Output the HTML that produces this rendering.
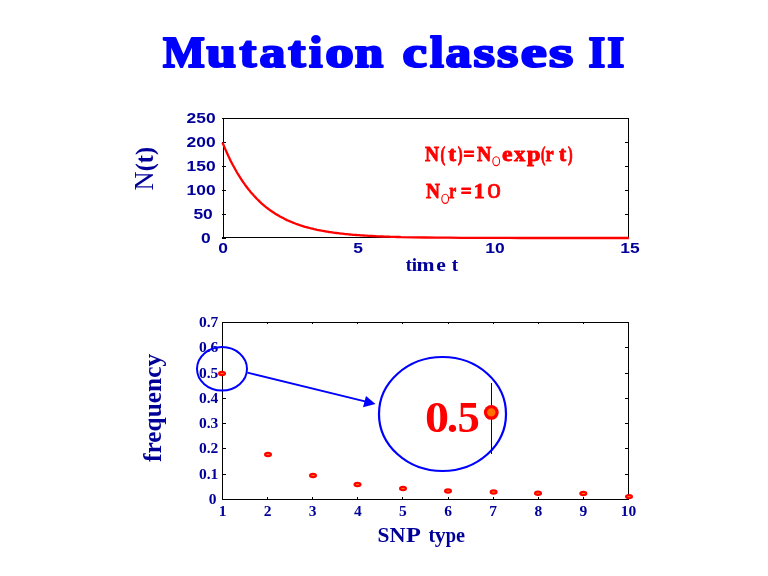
<!DOCTYPE html>
<html><head><meta charset="utf-8"><title>Mutation classes II</title>
<style>
html,body{margin:0;padding:0;background:#fff;}
body{width:768px;height:576px;overflow:hidden;font-family:"Liberation Serif",serif;}
svg{display:block;position:absolute;left:0;top:0;will-change:transform;}
text{font-family:"Liberation Serif",serif;}
.sans{font-family:"Liberation Sans",sans-serif;font-weight:bold;}
.sansr{font-family:"Liberation Sans",sans-serif;font-weight:normal;}
.ser{font-family:"Liberation Serif",serif;font-weight:bold;}
</style></head><body>
<svg width="768" height="576" viewBox="0 0 768 576">
<rect width="768" height="576" fill="#fff"/>
<text x="0" y="0" class="ser" font-size="45.1" fill="#0000ff" stroke="#0000ff" stroke-width="2.2" stroke-linejoin="round" transform="translate(163.02 66.9) scale(0.984 1)">M</text>
<text x="0" y="0" class="ser" font-size="45.1" fill="#0000ff" stroke="#0000ff" stroke-width="2.2" stroke-linejoin="round" transform="translate(206.39 66.9) scale(1.178 1)">u</text>
<text x="0" y="0" class="ser" font-size="45.1" fill="#0000ff" stroke="#0000ff" stroke-width="2.2" stroke-linejoin="round" transform="translate(239.42 66.9) scale(1.123 1)">t</text>
<text x="0" y="0" class="ser" font-size="45.1" fill="#0000ff" stroke="#0000ff" stroke-width="2.2" stroke-linejoin="round" transform="translate(259.59 66.9) scale(1.150 1)">a</text>
<text x="0" y="0" class="ser" font-size="45.1" fill="#0000ff" stroke="#0000ff" stroke-width="2.2" stroke-linejoin="round" transform="translate(288.23 66.9) scale(1.154 1)">t</text>
<text x="0" y="0" class="ser" font-size="45.1" fill="#0000ff" stroke="#0000ff" stroke-width="2.2" stroke-linejoin="round" transform="translate(309.02 66.9) scale(1.078 1)">i</text>
<text x="0" y="0" class="ser" font-size="45.1" fill="#0000ff" stroke="#0000ff" stroke-width="2.2" stroke-linejoin="round" transform="translate(325.32 66.9) scale(1.267 1)">o</text>
<text x="0" y="0" class="ser" font-size="45.1" fill="#0000ff" stroke="#0000ff" stroke-width="2.2" stroke-linejoin="round" transform="translate(354.87 66.9) scale(1.138 1)">n</text>
<text x="0" y="0" class="ser" font-size="45.1" fill="#0000ff" stroke="#0000ff" stroke-width="2.2" stroke-linejoin="round" transform="translate(402.56 66.9) scale(1.222 1)">c</text>
<text x="0" y="0" class="ser" font-size="45.1" fill="#0000ff" stroke="#0000ff" stroke-width="2.2" stroke-linejoin="round" transform="translate(429.94 66.9) scale(1.109 1)">l</text>
<text x="0" y="0" class="ser" font-size="45.1" fill="#0000ff" stroke="#0000ff" stroke-width="2.2" stroke-linejoin="round" transform="translate(445.40 66.9) scale(1.141 1)">a</text>
<text x="0" y="0" class="ser" font-size="45.1" fill="#0000ff" stroke="#0000ff" stroke-width="2.2" stroke-linejoin="round" transform="translate(473.58 66.9) scale(1.221 1)">s</text>
<text x="0" y="0" class="ser" font-size="45.1" fill="#0000ff" stroke="#0000ff" stroke-width="2.2" stroke-linejoin="round" transform="translate(497.08 66.9) scale(1.209 1)">s</text>
<text x="0" y="0" class="ser" font-size="45.1" fill="#0000ff" stroke="#0000ff" stroke-width="2.2" stroke-linejoin="round" transform="translate(520.68 66.9) scale(1.299 1)">e</text>
<text x="0" y="0" class="ser" font-size="45.1" fill="#0000ff" stroke="#0000ff" stroke-width="2.2" stroke-linejoin="round" transform="translate(549.03 66.9) scale(1.377 1)">s</text>
<text x="0" y="0" class="ser" font-size="45.1" fill="#0000ff" stroke="#0000ff" stroke-width="2.2" stroke-linejoin="round" transform="translate(588.40 66.9) scale(0.957 1)">I</text>
<text x="0" y="0" class="ser" font-size="45.1" fill="#0000ff" stroke="#0000ff" stroke-width="2.2" stroke-linejoin="round" transform="translate(607.29 66.9) scale(0.975 1)">I</text>
<g shape-rendering="crispEdges" stroke="#000" stroke-width="1" fill="none">
<rect x="223.5" y="118.5" width="405.0" height="119.0"/>
<line x1="222.0" y1="142.5" x2="226.0" y2="142.5"/>
<line x1="628.5" y1="142.5" x2="625.0" y2="142.5"/>
<line x1="222.0" y1="166.5" x2="226.0" y2="166.5"/>
<line x1="628.5" y1="166.5" x2="625.0" y2="166.5"/>
<line x1="222.0" y1="190.5" x2="226.0" y2="190.5"/>
<line x1="628.5" y1="190.5" x2="625.0" y2="190.5"/>
<line x1="222.0" y1="214.5" x2="226.0" y2="214.5"/>
<line x1="628.5" y1="214.5" x2="625.0" y2="214.5"/>
<rect x="222" y="237" width="4" height="2" fill="#000" stroke="none"/>
<line x1="222" y1="118.5" x2="224" y2="118.5"/>
</g>
<text x="0" y="0" class="sans" font-size="15.5" fill="#000099" text-anchor="end" transform="translate(215.6 122.8) scale(1.125 1)">250</text>
<text x="0" y="0" class="sans" font-size="15.5" fill="#000099" text-anchor="end" transform="translate(215.6 146.8) scale(1.125 1)">200</text>
<text x="0" y="0" class="sans" font-size="15.5" fill="#000099" text-anchor="end" transform="translate(215.6 170.8) scale(1.125 1)">150</text>
<text x="0" y="0" class="sans" font-size="15.5" fill="#000099" text-anchor="end" transform="translate(215.6 194.8) scale(1.125 1)">100</text>
<text x="0" y="0" class="sans" font-size="15.5" fill="#000099" text-anchor="end" transform="translate(212.8 218.8) scale(1.125 1)">50</text>
<text x="0" y="0" class="sans" font-size="15.5" fill="#000099" text-anchor="end" transform="translate(210.6 242.8) scale(1.125 1)">0</text>
<text x="0" y="0" class="sans" font-size="15.5" fill="#000099" text-anchor="middle" transform="translate(223.1 253) scale(1.125 1)">0</text>
<text x="0" y="0" class="sans" font-size="15.5" fill="#000099" text-anchor="middle" transform="translate(358.1 253) scale(1.125 1)">5</text>
<text x="0" y="0" class="sans" font-size="15.5" fill="#000099" text-anchor="middle" transform="translate(495.0 253) scale(1.125 1)">10</text>
<text x="0" y="0" class="sans" font-size="15.5" fill="#000099" text-anchor="middle" transform="translate(630.0 253) scale(1.125 1)">15</text>
<polyline points="222.5,142.5 224.0,146.1 225.5,149.6 227.0,153.0 228.5,156.3 230.0,159.4 231.5,162.4 233.0,165.3 234.5,168.0 236.0,170.7 237.5,173.3 239.0,175.7 240.5,178.1 242.0,180.4 243.5,182.6 245.0,184.7 246.5,186.7 248.0,188.7 249.5,190.6 251.0,192.4 252.5,194.1 254.0,195.8 255.5,197.4 257.0,199.0 258.5,200.4 260.0,201.9 261.5,203.3 263.0,204.6 264.5,205.9 266.0,207.1 267.5,208.3 269.0,209.4 270.5,210.5 272.0,211.5 273.5,212.5 275.0,213.5 276.5,214.4 278.0,215.3 279.5,216.2 281.0,217.0 282.5,217.8 284.0,218.6 285.5,219.4 287.0,220.1 288.5,220.7 290.0,221.4 291.5,222.0 293.0,222.6 294.5,223.2 296.0,223.8 297.5,224.3 299.0,224.9 300.5,225.4 302.0,225.8 303.5,226.3 305.0,226.8 306.5,227.2 308.0,227.6 309.5,228.0 311.0,228.4 312.5,228.7 314.0,229.1 315.5,229.4 317.0,229.8 318.5,230.1 320.0,230.4 321.5,230.7 323.0,230.9 324.5,231.2 326.0,231.5 327.5,231.7 329.0,232.0 330.5,232.2 332.0,232.4 333.5,232.6 335.0,232.8 336.5,233.0 338.0,233.2 339.5,233.4 341.0,233.6 342.5,233.7 344.0,233.9 345.5,234.1 347.0,234.2 348.5,234.4 350.0,234.5 351.5,234.6 353.0,234.8 354.5,234.9 356.0,235.0 357.5,235.1 359.0,235.2 360.5,235.3 362.0,235.4 363.5,235.5 365.0,235.6 366.5,235.7 368.0,235.8 369.5,235.9 371.0,236.0 372.5,236.0 374.0,236.1 375.5,236.2 377.0,236.3 378.5,236.3 380.0,236.4 381.5,236.5 383.0,236.5 384.5,236.6 386.0,236.6 387.5,236.7 389.0,236.7 390.5,236.8 392.0,236.8 393.5,236.9 395.0,236.9 396.5,237.0 398.0,237.0 399.5,237.0 401.0,237.1 413.0,237.3 425.0,237.5 437.0,237.6 449.0,237.7 461.0,237.8 473.0,237.9 485.0,237.9 497.0,237.9 509.0,237.9 521.0,238.0 533.0,238.0 545.0,238.0 557.0,238.0 569.0,238.0 581.0,238.0 593.0,238.0 605.0,238.0 617.0,238.0 628.9,238.0" fill="none" stroke="#ff0000" stroke-width="2.3" stroke-linejoin="round"/>
<text x="0" y="0" class="ser" font-size="20.2" fill="#ff0000" stroke="#ff0000" stroke-width="0.8" stroke-linejoin="round" transform="translate(425.01 160.6) scale(0.964 1)">N</text>
<text x="0" y="0" class="ser" font-size="20.2" fill="#ff0000" stroke="#ff0000" stroke-width="0.8" stroke-linejoin="round" transform="translate(440.40 160.6) scale(0.710 1)">(</text>
<text x="0" y="0" class="ser" font-size="20.2" fill="#ff0000" stroke="#ff0000" stroke-width="0.8" stroke-linejoin="round" transform="translate(448.29 160.6) scale(1.153 1)">t</text>
<text x="0" y="0" class="ser" font-size="20.2" fill="#ff0000" stroke="#ff0000" stroke-width="0.8" stroke-linejoin="round" transform="translate(457.72 160.6) scale(0.718 1)">)</text>
<text x="0" y="0" class="ser" font-size="20.2" fill="#ff0000" stroke="#ff0000" stroke-width="0.8" stroke-linejoin="round" transform="translate(463.19 160.6) scale(1.001 1)">=</text>
<text x="0" y="0" class="ser" font-size="20.2" fill="#ff0000" stroke="#ff0000" stroke-width="0.8" stroke-linejoin="round" transform="translate(477.11 160.6) scale(0.977 1)">N</text>
<text x="0" y="0" class="ser" font-size="20.2" fill="#ff0000" stroke="#ff0000" stroke-width="0.8" stroke-linejoin="round" transform="translate(501.96 160.6) scale(1.169 1)">e</text>
<text x="0" y="0" class="ser" font-size="20.2" fill="#ff0000" stroke="#ff0000" stroke-width="0.8" stroke-linejoin="round" transform="translate(514.11 160.6) scale(1.116 1)">x</text>
<text x="0" y="0" class="ser" font-size="20.2" fill="#ff0000" stroke="#ff0000" stroke-width="0.8" stroke-linejoin="round" transform="translate(527.07 160.6) scale(1.204 1)">p</text>
<text x="0" y="0" class="ser" font-size="20.2" fill="#ff0000" stroke="#ff0000" stroke-width="0.8" stroke-linejoin="round" transform="translate(540.98 160.6) scale(0.651 1)">(</text>
<text x="0" y="0" class="ser" font-size="20.2" fill="#ff0000" stroke="#ff0000" stroke-width="0.8" stroke-linejoin="round" transform="translate(545.47 160.6) scale(0.910 1)">r</text>
<text x="0" y="0" class="ser" font-size="20.2" fill="#ff0000" stroke="#ff0000" stroke-width="0.8" stroke-linejoin="round" transform="translate(558.98 160.6) scale(1.069 1)">t</text>
<text x="0" y="0" class="ser" font-size="20.2" fill="#ff0000" stroke="#ff0000" stroke-width="0.8" stroke-linejoin="round" transform="translate(568.03 160.6) scale(0.685 1)">)</text>
<ellipse cx="496.2" cy="161.2" rx="3.4" ry="4.4" fill="none" stroke="#ff0000" stroke-width="1.1"/>
<text x="0" y="0" class="ser" font-size="20.2" fill="#ff0000" stroke="#ff0000" stroke-width="0.8" stroke-linejoin="round" transform="translate(426.11 197.6) scale(0.957 1)">N</text>
<text x="0" y="0" class="ser" font-size="20.2" fill="#ff0000" stroke="#ff0000" stroke-width="0.8" stroke-linejoin="round" transform="translate(449.29 197.6) scale(0.774 1)">r</text>
<text x="0" y="0" class="ser" font-size="20.2" fill="#ff0000" stroke="#ff0000" stroke-width="0.8" stroke-linejoin="round" transform="translate(460.72 197.6) scale(0.952 1)">=</text>
<text x="0" y="0" class="ser" font-size="20.2" fill="#ff0000" stroke="#ff0000" stroke-width="0.8" stroke-linejoin="round" transform="translate(473.68 197.6) scale(1.081 1)">1</text>
<text x="0" y="0" class="sansr" font-size="20.6" fill="#ff0000" stroke="#ff0000" stroke-width="0.6" stroke-linejoin="round" transform="translate(487.30 197.7) scale(1.187 1)">0</text>
<ellipse cx="445.2" cy="198.8" rx="3.4" ry="4.6" fill="none" stroke="#ff0000" stroke-width="1.1"/>
<text x="0" y="0" class="ser" font-size="18.5" fill="#000099" transform="translate(405.71 270.6) scale(0.986 1)">t</text>
<text x="0" y="0" class="ser" font-size="18.5" fill="#000099" transform="translate(411.68 270.6) scale(1.031 1)">i</text>
<text x="0" y="0" class="ser" font-size="18.5" fill="#000099" transform="translate(416.52 270.6) scale(1.171 1)">m</text>
<text x="0" y="0" class="ser" font-size="18.5" fill="#000099" transform="translate(436.36 270.6) scale(1.169 1)">e</text>
<text x="0" y="0" class="ser" font-size="18.5" fill="#000099" transform="translate(451.79 270.6) scale(1.038 1)">t</text>
<text transform="translate(153 190.5) rotate(-90)" font-size="26.5" fill="#000099">N<tspan font-weight="bold" font-size="24.5">(t)</tspan></text>
<g shape-rendering="crispEdges" stroke="#000" stroke-width="1" fill="none">
<rect x="222.5" y="322.5" width="406.0" height="177.0"/>
<line x1="222.5" y1="347.8" x2="226.0" y2="347.8"/>
<line x1="628.5" y1="347.8" x2="625.0" y2="347.8"/>
<line x1="222.5" y1="373.1" x2="226.0" y2="373.1"/>
<line x1="628.5" y1="373.1" x2="625.0" y2="373.1"/>
<line x1="222.5" y1="398.4" x2="226.0" y2="398.4"/>
<line x1="628.5" y1="398.4" x2="625.0" y2="398.4"/>
<line x1="222.5" y1="423.6" x2="226.0" y2="423.6"/>
<line x1="628.5" y1="423.6" x2="625.0" y2="423.6"/>
<line x1="222.5" y1="448.9" x2="226.0" y2="448.9"/>
<line x1="628.5" y1="448.9" x2="625.0" y2="448.9"/>
<line x1="222.5" y1="474.2" x2="226.0" y2="474.2"/>
<line x1="628.5" y1="474.2" x2="625.0" y2="474.2"/>
<line x1="267.6" y1="322.5" x2="267.6" y2="324.0"/>
<line x1="267.6" y1="499.5" x2="267.6" y2="497.0"/>
<line x1="312.7" y1="322.5" x2="312.7" y2="324.0"/>
<line x1="312.7" y1="499.5" x2="312.7" y2="497.0"/>
<line x1="357.8" y1="322.5" x2="357.8" y2="324.0"/>
<line x1="357.8" y1="499.5" x2="357.8" y2="497.0"/>
<line x1="402.9" y1="322.5" x2="402.9" y2="324.0"/>
<line x1="402.9" y1="499.5" x2="402.9" y2="497.0"/>
<line x1="448.1" y1="322.5" x2="448.1" y2="324.0"/>
<line x1="448.1" y1="499.5" x2="448.1" y2="497.0"/>
<line x1="493.2" y1="322.5" x2="493.2" y2="324.0"/>
<line x1="493.2" y1="499.5" x2="493.2" y2="497.0"/>
<line x1="538.3" y1="322.5" x2="538.3" y2="324.0"/>
<line x1="538.3" y1="499.5" x2="538.3" y2="497.0"/>
<line x1="583.4" y1="322.5" x2="583.4" y2="324.0"/>
<line x1="583.4" y1="499.5" x2="583.4" y2="497.0"/>
</g>
<text x="0" y="0" class="ser" font-size="14" fill="#000099" text-anchor="end" transform="translate(218.3 327.0) scale(1.11 1)">0.7</text>
<text x="0" y="0" class="ser" font-size="14" fill="#000099" text-anchor="end" transform="translate(218.3 352.3) scale(1.11 1)">0.6</text>
<text x="0" y="0" class="ser" font-size="14" fill="#000099" text-anchor="end" transform="translate(218.3 377.6) scale(1.11 1)">0.5</text>
<text x="0" y="0" class="ser" font-size="14" fill="#000099" text-anchor="end" transform="translate(218.3 402.9) scale(1.11 1)">0.4</text>
<text x="0" y="0" class="ser" font-size="14" fill="#000099" text-anchor="end" transform="translate(218.3 428.2) scale(1.11 1)">0.3</text>
<text x="0" y="0" class="ser" font-size="14" fill="#000099" text-anchor="end" transform="translate(218.3 453.4) scale(1.11 1)">0.2</text>
<text x="0" y="0" class="ser" font-size="14" fill="#000099" text-anchor="end" transform="translate(218.3 478.7) scale(1.11 1)">0.1</text>
<text x="0" y="0" class="ser" font-size="14" fill="#000099" text-anchor="end" transform="translate(216.4 504.0) scale(1.11 1)">0</text>
<text x="0" y="0" class="ser" font-size="14" fill="#000099" text-anchor="middle" transform="translate(222.5 515.8) scale(1.11 1)">1</text>
<text x="0" y="0" class="ser" font-size="14" fill="#000099" text-anchor="middle" transform="translate(267.6 515.8) scale(1.11 1)">2</text>
<text x="0" y="0" class="ser" font-size="14" fill="#000099" text-anchor="middle" transform="translate(312.7 515.8) scale(1.11 1)">3</text>
<text x="0" y="0" class="ser" font-size="14" fill="#000099" text-anchor="middle" transform="translate(357.8 515.8) scale(1.11 1)">4</text>
<text x="0" y="0" class="ser" font-size="14" fill="#000099" text-anchor="middle" transform="translate(402.9 515.8) scale(1.11 1)">5</text>
<text x="0" y="0" class="ser" font-size="14" fill="#000099" text-anchor="middle" transform="translate(448.1 515.8) scale(1.11 1)">6</text>
<text x="0" y="0" class="ser" font-size="14" fill="#000099" text-anchor="middle" transform="translate(493.2 515.8) scale(1.11 1)">7</text>
<text x="0" y="0" class="ser" font-size="14" fill="#000099" text-anchor="middle" transform="translate(538.3 515.8) scale(1.11 1)">8</text>
<text x="0" y="0" class="ser" font-size="14" fill="#000099" text-anchor="middle" transform="translate(583.4 515.8) scale(1.11 1)">9</text>
<text x="0" y="0" class="ser" font-size="14" fill="#000099" text-anchor="middle" transform="translate(628.5 515.8) scale(1.11 1)">10</text>
<ellipse cx="222" cy="373.5" rx="4" ry="2.7" fill="#ff0000"/>
<rect x="220.5" y="373.0" width="3" height="1" fill="#ff8000"/>
<ellipse cx="268" cy="454.5" rx="4" ry="2.7" fill="#ff0000"/>
<rect x="266.5" y="454.0" width="3" height="1" fill="#ff8000"/>
<ellipse cx="313" cy="475.5" rx="4" ry="2.7" fill="#ff0000"/>
<rect x="311.5" y="475.0" width="3" height="1" fill="#ff8000"/>
<ellipse cx="357.5" cy="484.5" rx="4" ry="2.7" fill="#ff0000"/>
<rect x="356.0" y="484.0" width="3" height="1" fill="#ff8000"/>
<ellipse cx="403" cy="488.5" rx="4" ry="2.7" fill="#ff0000"/>
<rect x="401.5" y="488.0" width="3" height="1" fill="#ff8000"/>
<ellipse cx="448" cy="491" rx="4" ry="2.7" fill="#ff0000"/>
<rect x="446.5" y="490.5" width="3" height="1" fill="#ff8000"/>
<ellipse cx="493.6" cy="492" rx="4" ry="2.7" fill="#ff0000"/>
<rect x="492.1" y="491.5" width="3" height="1" fill="#ff8000"/>
<ellipse cx="538" cy="493.2" rx="4" ry="2.7" fill="#ff0000"/>
<rect x="536.5" y="492.7" width="3" height="1" fill="#ff8000"/>
<ellipse cx="583.3" cy="493.5" rx="4" ry="2.7" fill="#ff0000"/>
<rect x="581.8" y="493.0" width="3" height="1" fill="#ff8000"/>
<ellipse cx="629" cy="496.6" rx="4" ry="2.7" fill="#ff0000"/>
<rect x="627.5" y="496.1" width="3" height="1" fill="#ff8000"/>
<ellipse cx="222" cy="368.8" rx="25" ry="21.8" fill="none" stroke="#0000ff" stroke-width="2"/>
<ellipse cx="442.5" cy="414" rx="63.5" ry="57" fill="none" stroke="#0000ff" stroke-width="2.2"/>
<line x1="247.5" y1="372.6" x2="366" y2="401.6" stroke="#0000ff" stroke-width="2"/>
<polygon points="366,396 375.5,404 363,407.3" fill="#0000ff"/>
<line x1="491.5" y1="383" x2="491.5" y2="454" stroke="#000080" stroke-width="1" shape-rendering="crispEdges"/>
<text x="0" y="0" class="ser" font-size="43.4" fill="#ff0000" transform="translate(424.97 431.8) scale(1.109 1)">0</text>
<text x="0" y="0" class="ser" font-size="43.4" fill="#ff0000" transform="translate(446.69 431.8) scale(1.052 1)">.</text>
<text x="0" y="0" class="ser" font-size="43.4" fill="#ff0000" transform="translate(457.51 431.8) scale(1.029 1)">5</text>
<circle cx="491.3" cy="412.4" r="7.4" fill="#ff0000"/>
<circle cx="491.3" cy="412.4" r="4.2" fill="#ff7000"/>
<text transform="translate(160.5 462) rotate(-90)" class="ser" font-size="25.4" fill="#000099">frequency</text>
<text x="0" y="0" class="ser" font-size="20.2" fill="#000099" transform="translate(377.61 542) scale(1.059 1)">S</text>
<text x="0" y="0" class="ser" font-size="20.2" fill="#000099" transform="translate(389.58 542) scale(1.098 1)">N</text>
<text x="0" y="0" class="ser" font-size="20.2" fill="#000099" transform="translate(405.98 542) scale(1.208 1)">P</text>
<text x="0" y="0" class="ser" font-size="20.2" fill="#000099" transform="translate(428.43 542) scale(0.990 1)">t</text>
<text x="0" y="0" class="ser" font-size="20.2" fill="#000099" transform="translate(434.78 542) scale(1.092 1)">y</text>
<text x="0" y="0" class="ser" font-size="20.2" fill="#000099" transform="translate(445.77 542) scale(0.915 1)">p</text>
<text x="0" y="0" class="ser" font-size="20.2" fill="#000099" transform="translate(455.91 542) scale(1.006 1)">e</text>
</svg>
</body></html>
